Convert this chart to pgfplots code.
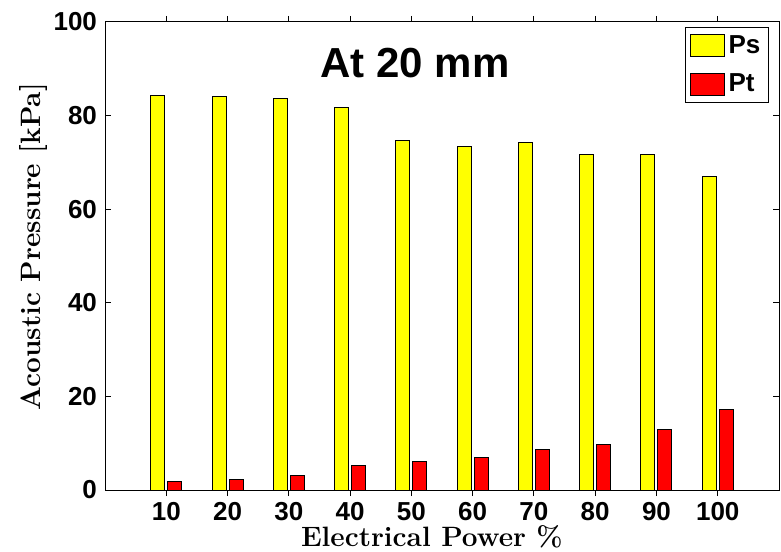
\documentclass[border=0pt]{standalone}
\usepackage{pgfplots}
\pgfplotsset{compat=1.18}
\usepackage{fontspec}
\setsansfont{Liberation Sans}
\begin{document}
\begin{tikzpicture}
\useasboundingbox (-52.5pt,-30.5pt) rectangle (338pt,245pt);
\begin{axis}[
  at={(0,0)}, anchor=south west,
  scale only axis, width=337pt, height=234pt,
  xmin=0, xmax=11, ymin=0, ymax=100,
  xtick={1,...,10},
  xticklabels={10,20,30,40,50,60,70,80,90,100},
  ytick={0,20,40,60,80,100},
  tick align=inside,
  major tick length=3pt,
  xtick pos=both, ytick pos=both,
  /pgf/number format/assume math mode=true,
  tick label style={font=\sffamily\bfseries\fontsize{13}{13}\selectfont},
  xticklabel style={inner sep=1pt, yshift=-2pt},
  yticklabel style={xshift=-0.5pt},
  axis line style={black, line width=0.5pt},
  tick style={black, line width=0.5pt},
  ybar, bar width=7pt, ybar=1.5pt,
  xlabel={Electrical Power \%},
  ylabel={Acoustic Pressure [kPa]},
  label style={font=\bfseries\fontsize{14}{16}\selectfont},
  xlabel style={at={(axis description cs:0.485,-0.1)}, anchor=center, inner sep=0pt},
  ylabel style={at={(axis description cs:-0.106,0.52)}, anchor=center, rotate=0},
  legend style={at={(rel axis cs:0.985,0.99)}, anchor=north east,
    font=\sffamily\bfseries\fontsize{13}{14}\selectfont,
    draw=black, line width=0.5pt, inner sep=2pt, row sep=5pt,
    cells={anchor=west}},
  legend image code/.code={\draw[#1, draw=black, line width=0.4pt] (0pt,-5.5pt) rectangle (17pt,5.5pt);},
]
\addplot[fill={rgb,255:red,255;green,255;blue,0}, draw=black, line width=0.5pt] coordinates {
(1,84.3) (2,84.0) (3,83.7) (4,81.8) (5,74.6) (6,73.3) (7,74.2) (8,71.6) (9,71.6) (10,67.0)};
\addplot[fill={rgb,255:red,255;green,0;blue,0}, draw=black, line width=0.5pt] coordinates {
(1,1.85) (2,2.35) (3,3.1) (4,5.2) (5,6.0) (6,7.05) (7,8.76) (8,9.7) (9,13.0) (10,17.3)};
\legend{Ps,Pt}
\node[font=\sffamily\bfseries\fontsize{21}{24}\selectfont] at (rel axis cs:0.46,0.912) {At 20 mm};
\end{axis}
\end{tikzpicture}
\end{document}
